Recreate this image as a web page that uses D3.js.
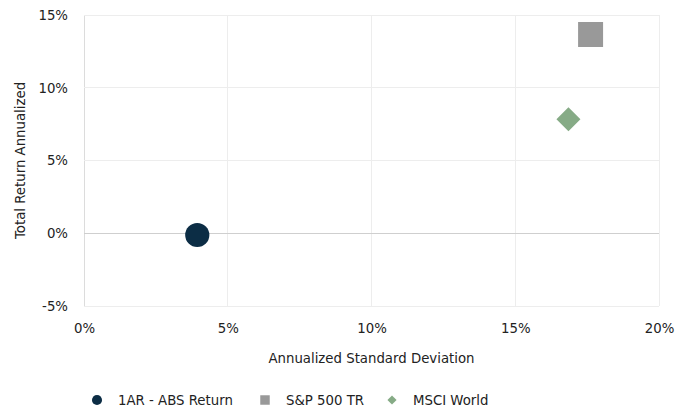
<!DOCTYPE html>
<html><head><meta charset="utf-8">
<script src="https://cdn.jsdelivr.net/npm/d3@7"></script>
<style>body{margin:0;background:#fff}svg{font-family:Verdana,"DejaVu Sans",sans-serif}</style>
</head><body><svg id="c" width="688" height="409"></svg>
<script>
const seriesNames = ["1AR - ABS Return", "S&P 500 TR", "MSCI World"];
const stdDev = [3.94, 17.62, 16.85];
const totalReturn = [-0.12, 13.66, 7.83];
const xTicks = [0, 5, 10, 15, 20];
const yTicks = [-5, 0, 5, 10, 15];
const colors = ["#0c2d45", "#999999", "#86ab86"];
const shapes = [d3.symbolCircle, d3.symbolSquare, d3.symbolSquare];
const rot = [0, 0, 45];
const FS = 13.3;

const svg = d3.select("#c");
const m = {l:84, r:29, t:15, b:103};
const W = 688, H = 409;
const x = d3.scaleLinear().domain([0,20]).range([m.l, W-m.r]);
const y = d3.scaleLinear().domain([-5,15]).range([H-m.b, m.t]);

const g = svg.append("g");
g.selectAll(".vg").data(xTicks).join("line")
 .attr("x1", d=>x(d)).attr("x2", d=>x(d)).attr("y1", y(15)).attr("y2", y(-5))
 .attr("stroke", d=> d===0 ? "#dcdcdc" : "#ededed").attr("stroke-width",1).attr("shape-rendering","crispEdges");
g.selectAll(".hg").data(yTicks).join("line")
 .attr("y1", d=>y(d)).attr("y2", d=>y(d)).attr("x1", x(0)).attr("x2", x(20))
 .attr("stroke", d=> d===0 ? "#cfcfcf" : "#ededed").attr("stroke-width",1).attr("shape-rendering","crispEdges");

const yAxis = d3.axisLeft(y).tickValues(yTicks).tickFormat(d=>d+"%").tickSize(0).tickPadding(16);
const ya = svg.append("g").attr("transform",`translate(${m.l},0)`).call(yAxis);
ya.select(".domain").remove();
ya.selectAll("text").attr("font-size",FS).attr("fill","#222").attr("font-family",'Verdana,"DejaVu Sans",sans-serif');
const xAxis = d3.axisBottom(x).tickValues(xTicks).tickFormat(d=>d+"%").tickSize(0).tickPadding(18);
const xa = svg.append("g").attr("transform",`translate(0,${H-m.b})`).call(xAxis);
xa.select(".domain").remove();
xa.selectAll("text").attr("font-size",FS).attr("fill","#222").attr("font-family",'Verdana,"DejaVu Sans",sans-serif');

svg.append("text").attr("x", (x(0)+x(20))/2).attr("y", 363).attr("text-anchor","middle")
 .attr("font-size",FS).attr("fill","#222").text("Annualized Standard Deviation");
svg.append("text").attr("transform",`translate(25,${(y(15)+y(-5))/2}) rotate(-90)`).attr("text-anchor","middle")
 .attr("font-size",FS).attr("fill","#222").text("Total Return Annualized");

const sizes = [460, 625, 289];
svg.selectAll(".pt").data(seriesNames).join("path")
 .attr("transform",(d,i)=>`translate(${x(stdDev[i])},${y(totalReturn[i])}) rotate(${rot[i]})`)
 .attr("d",(d,i)=>d3.symbol().type(shapes[i]).size(sizes[i])())
 .attr("fill",(d,i)=>colors[i]);

const legX = [97, 265, 392];
const lg = svg.selectAll(".lg").data(seriesNames).join("g").attr("transform",(d,i)=>`translate(${legX[i]},400)`);
const lsizes = [80, 90, 42];
lg.append("path").attr("transform",(d,i)=>`rotate(${rot[i]})`)
 .attr("d",(d,i)=>d3.symbol().type(shapes[i]).size(lsizes[i])()).attr("fill",(d,i)=>colors[i]);
lg.append("text").attr("x",21).attr("y",5).attr("font-size",FS).attr("fill","#222").text(d=>d);
</script></body></html>
